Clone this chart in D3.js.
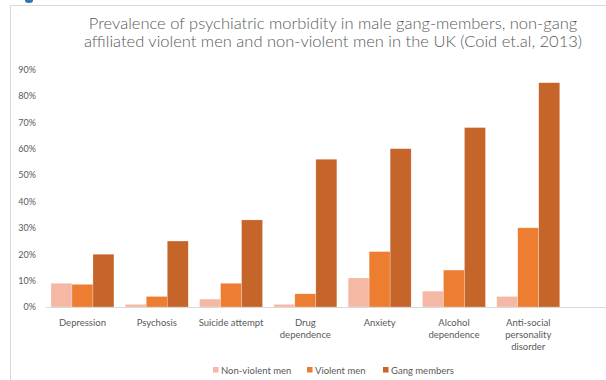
<!DOCTYPE html>
<html><head><meta charset="utf-8">
<script src="https://cdn.jsdelivr.net/npm/d3@7"></script>
<style>body{margin:0;background:#fff}svg{display:block}text{font-family:Lato,"Liberation Sans",sans-serif;fill:#595959}</style>
</head><body>
<svg id="c" width="606" height="380"></svg>
<script>
const categories = ["Depression","Psychosis","Suicide attempt","Drug dependence","Anxiety","Alcohol dependence","Anti-social personality disorder"];
const categoryLines = [["Depression"],["Psychosis"],["Suicide attempt"],["Drug","dependence"],["Anxiety"],["Alcohol","dependence"],["Anti-social","personality","disorder"]];
const seriesNames = ["Non-violent men","Violent men","Gang members"];
const nonViolent = [9, 1, 3, 1, 11, 6, 4];
const violent = [8.6, 4, 9, 5, 21, 14, 30];
const gang = [20, 25, 33, 56, 60, 68, 85];
const yTicks = [0,10,20,30,40,50,60,70,80,90];
const colors = ["#F4B8A4","#ED7D31","#C5652A"];
const titleLines = ["Prevalence of psychiatric morbidity in male gang-members, non-gang","affiliated violent men and non-violent men in the UK (Coid et.al, 2013)"];

const series = [nonViolent, violent, gang];
const svg = d3.select("#c");

// frame
svg.append("line").attr("x1",10.5).attr("x2",606).attr("y1",5.5).attr("y2",5.5).attr("stroke","#d9d9d9");
svg.append("line").attr("x1",10.5).attr("x2",10.5).attr("y1",5.5).attr("y2",380).attr("stroke","#d9d9d9");
svg.append("ellipse").attr("cx",29).attr("cy",0.5).attr("rx",4).attr("ry",2.5).attr("fill","#2E75B6");

// title
svg.append("g").selectAll("text").data(titleLines).join("text")
  .attr("x",333).attr("y",(d,i)=>28.5+i*18.5).attr("text-anchor","middle")
  .style("font-size","16.5px").style("font-weight","300").attr("fill","#595959").text(d=>d);

const y = d3.scaleLinear().domain([0,90]).range([307,69.5]);
const x0 = d3.scaleBand().domain(categories).range([45.3,565.4]).paddingInner(0.152).paddingOuter(0.076);
const x1 = d3.scaleBand().domain(d3.range(3)).range([0,x0.bandwidth()]);

// y axis labels
const yAxis = d3.axisLeft(y).tickValues(yTicks).tickFormat(d=>d+"%").tickSize(0).tickPadding(0);
const ya = svg.append("g").attr("transform","translate(36,0)").call(yAxis);
ya.select(".domain").remove();
ya.selectAll("text").style("font-size","9px").attr("fill","#6b6b6b").style("font-family","Lato,'Liberation Sans',sans-serif");

// bars
const g = svg.append("g");
categories.forEach((c,ci)=>{
  g.selectAll(null).data(series.map((s,si)=>({si, v:s[ci]}))).join("rect")
    .attr("x",d=>x0(c)+x1(d.si)).attr("width",x1.bandwidth())
    .attr("y",d=>y(d.v)).attr("height",d=>y(0)-y(d.v))
    .attr("fill",d=>colors[d.si]).attr("stroke","#fff").attr("stroke-opacity",0.5).attr("stroke-width",0.5);
});

// baseline
svg.append("line").attr("x1",46).attr("x2",606).attr("y1",307.5).attr("y2",307.5).attr("stroke","#d9d9d9");

// category labels
const cl = svg.append("g");
categories.forEach((c,ci)=>{
  cl.append("text").attr("text-anchor","middle").style("font-size","9.5px").attr("fill","#6b6b6b")
    .selectAll("tspan").data(categoryLines[ci]).join("tspan")
    .attr("x",x0(c)+x0.bandwidth()/2).attr("y",(d,i)=>325.5+i*12).text(d=>d);
});

// legend
const legX = [213,307,383];
const lg = svg.append("g");
seriesNames.forEach((n,i)=>{
  lg.append("rect").attr("x",legX[i]).attr("y",367).attr("width",5.5).attr("height",5.5).attr("fill",colors[i]);
  lg.append("text").attr("x",legX[i]+8).attr("y",373.5).style("font-size","9.5px").attr("fill","#6b6b6b").text(n);
});
</script>
</body></html>
